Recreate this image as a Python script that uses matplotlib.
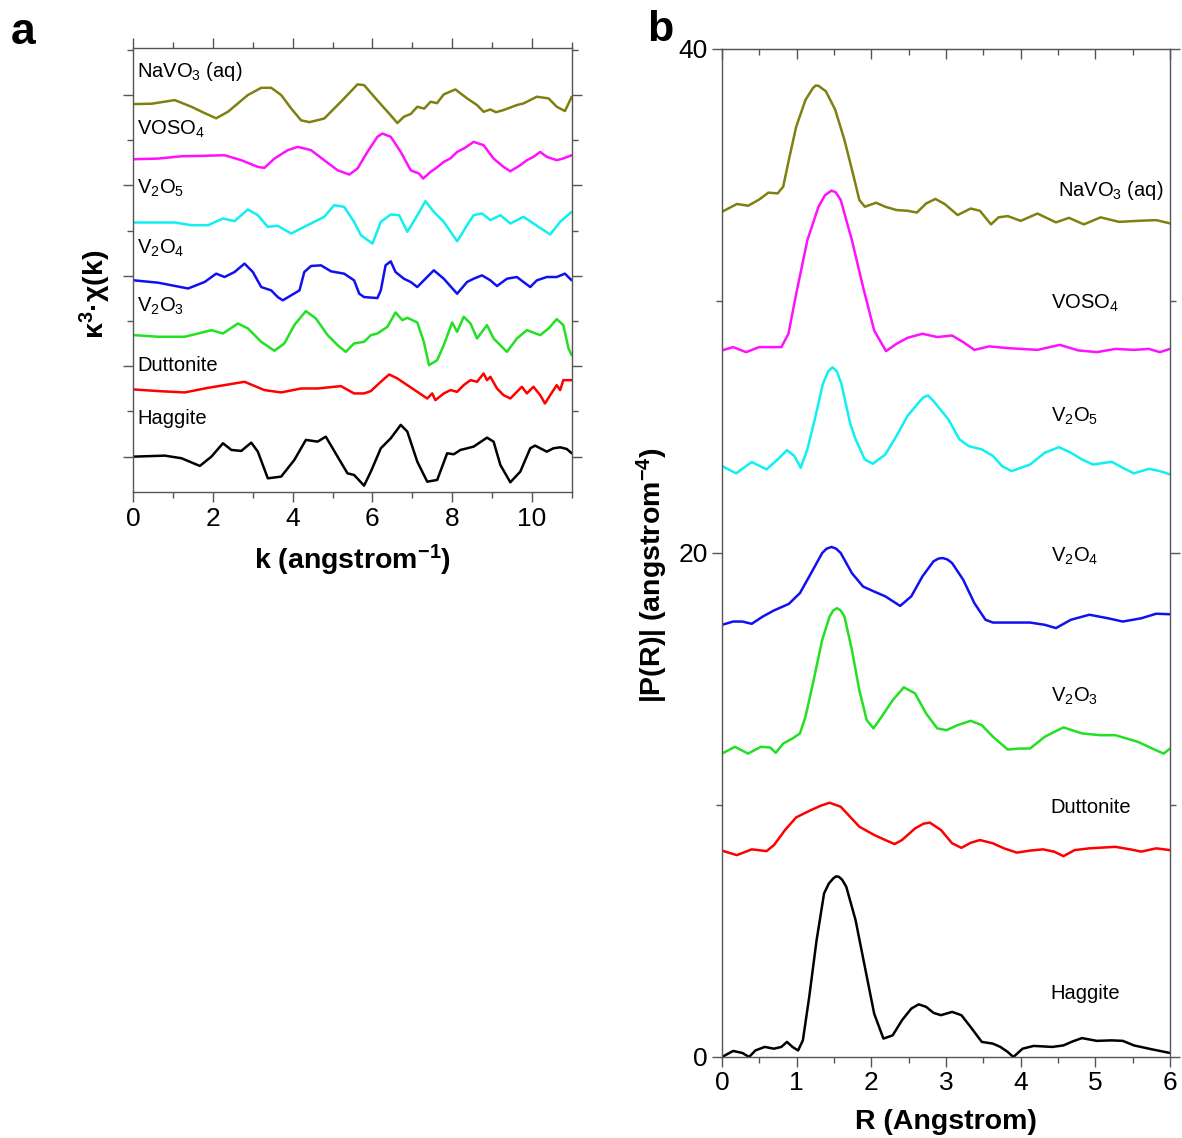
import matplotlib

matplotlib.use("Agg")
import matplotlib.pyplot as plt
from matplotlib.ticker import MultipleLocator

plt.rcParams["font.family"] = ["Liberation Sans", "DejaVu Sans"]
plt.rcParams["mathtext.default"] = "regular"

# ---------------- panel a: k^3 chi(k), stacked with offsets ----------------
names = ["Haggite", "Duttonite", "V$_2$O$_3$", "V$_2$O$_4$", "V$_2$O$_5$", "VOSO$_4$", "NaVO$_3$ (aq)"]
colors = ["#000000", "#ff0000", "#22e022", "#1010f0", "#10f0f0", "#ff10ff", "#808010"]
k_offsets = [0.0, 0.743, 1.344, 1.95, 2.59, 3.29, 3.90]
k_label_y = [0.357, 0.947, 1.60, 2.25, 2.905, 3.565, 4.20]

hag_k = [0.02, 0.79, 1.21, 1.67, 1.96, 2.25, 2.46, 2.71, 2.96, 3.125, 3.375, 3.71, 4.04, 4.33, 4.625,
         4.83, 5.125, 5.375, 5.54, 5.79, 5.96, 6.21, 6.46, 6.71, 6.875, 7.125, 7.375, 7.625, 7.875,
         8.04, 8.21, 8.375, 8.54, 8.875, 9.04, 9.21, 9.46, 9.71, 9.96, 10.08, 10.375, 10.54, 10.71,
         10.875, 11.0]
hag_chi = [0.0, 0.011, -0.018, -0.103, 0.0, 0.148, 0.074, 0.063, 0.155, 0.055, -0.240, -0.221, -0.037,
           0.185, 0.166, 0.221, 0.0, -0.185, -0.203, -0.321, -0.166, 0.092, 0.203, 0.351, 0.277,
           -0.055, -0.277, -0.258, 0.037, 0.026, 0.074, 0.092, 0.111, 0.210, 0.166, -0.092, -0.284,
           -0.166, 0.092, 0.122, 0.055, 0.092, 0.103, 0.085, 0.037]

dut_k = [0.02, 0.625, 1.29, 1.875, 2.29, 2.79, 3.29, 3.71, 4.21, 4.625, 5.21, 5.54, 5.79, 5.96, 6.21,
         6.42, 6.625, 6.875, 7.125, 7.375, 7.5, 7.58, 7.79, 7.96, 8.125, 8.29, 8.46, 8.625, 8.79,
         8.875, 8.96, 9.125, 9.29, 9.46, 9.625, 9.75, 9.875, 10.04, 10.21, 10.33, 10.46, 10.625,
         10.71, 10.79, 11.0]
dut_chi = [0.0, -0.018, -0.033, 0.018, 0.048, 0.085, -0.007, -0.033, 0.011, 0.011, 0.037, -0.044,
           -0.044, -0.018, 0.085, 0.166, 0.122, 0.048, -0.026, -0.100, -0.044, -0.118, -0.044,
           -0.007, -0.026, 0.048, 0.103, 0.085, 0.177, 0.103, 0.140, 0.011, -0.063, -0.100,
           -0.026, 0.030, -0.044, 0.030, -0.063, -0.155, -0.063, 0.048, -0.007, 0.103, 0.103]

v2o3_k = [0.02, 0.625, 1.29, 1.625, 1.96, 2.25, 2.625, 2.875, 3.21, 3.54, 3.79, 4.04, 4.33, 4.58,
          4.875, 5.125, 5.33, 5.54, 5.79, 5.96, 6.125, 6.375, 6.58, 6.75, 6.875, 7.125, 7.29, 7.42,
          7.625, 7.79, 8.0, 8.125, 8.29, 8.46, 8.625, 8.875, 9.04, 9.375, 9.625, 9.875, 10.21,
          10.42, 10.625, 10.79, 10.92, 11.0]
v2o3_chi = [0.0, -0.018, -0.018, 0.018, 0.055, 0.018, 0.129, 0.074, -0.074, -0.173, -0.092, 0.111,
            0.266, 0.185, 0.0, -0.111, -0.185, -0.092, -0.074, 0.0, 0.018, 0.092, 0.251, 0.166,
            0.192, 0.140, -0.074, -0.332, -0.277, -0.111, 0.140, 0.037, 0.203, 0.129, -0.037,
            0.111, -0.037, -0.185, -0.037, 0.055, 0.0, 0.074, 0.177, 0.111, -0.148, -0.221]

v2o4_k = [0.02, 0.625, 1.375, 1.79, 2.08, 2.29, 2.54, 2.79, 3.0, 3.21, 3.46, 3.625, 3.75, 3.96, 4.17,
          4.29, 4.46, 4.71, 4.96, 5.29, 5.54, 5.67, 5.79, 6.125, 6.21, 6.33, 6.46, 6.58, 6.79,
          6.96, 7.125, 7.29, 7.54, 7.79, 8.125, 8.375, 8.54, 8.75, 8.96, 9.125, 9.375, 9.625,
          9.79, 9.96, 10.125, 10.375, 10.625, 10.83, 11.0]
v2o4_chi = [0.0, -0.026, -0.090, -0.018, 0.074, 0.037, 0.092, 0.185, 0.092, -0.074, -0.111, -0.185,
            -0.221, -0.166, -0.111, 0.092, 0.159, 0.166, 0.100, 0.074, 0.0, -0.148, -0.185, -0.196,
            -0.111, 0.166, 0.210, 0.092, 0.018, -0.018, -0.074, 0.0, 0.111, 0.018, -0.148, -0.018,
            0.018, 0.055, 0.0, -0.063, 0.018, 0.037, -0.018, -0.074, 0.0, 0.037, 0.037, 0.074, 0.0]

v2o5_k = [0.02, 1.04, 1.46, 1.875, 2.25, 2.54, 2.875, 3.125, 3.375, 3.625, 3.96, 4.29, 4.79, 5.04,
          5.29, 5.54, 5.71, 6.0, 6.21, 6.46, 6.67, 6.875, 7.08, 7.33, 7.54, 7.79, 8.125, 8.375,
          8.54, 8.75, 8.96, 9.21, 9.46, 9.79, 10.04, 10.46, 10.71, 11.0]
v2o5_chi = [0.0, 0.0, -0.030, -0.030, 0.044, 0.015, 0.144, 0.081, -0.048, -0.037, -0.122, -0.048,
            0.063, 0.192, 0.173, 0.007, -0.140, -0.233, 0.007, 0.089, 0.081, -0.103, 0.044, 0.236,
            0.118, 0.007, -0.207, -0.030, 0.081, 0.100, 0.026, 0.081, -0.011, 0.063, -0.011,
            -0.133, 0.007, 0.118]

voso_k = [0.02, 0.625, 1.21, 1.71, 2.29, 2.71, 3.125, 3.29, 3.54, 3.875, 4.125, 4.46, 4.79, 5.125,
          5.42, 5.625, 5.875, 6.125, 6.25, 6.46, 6.71, 6.96, 7.17, 7.27, 7.46, 7.62, 7.79, 7.96,
          8.125, 8.3, 8.54, 8.79, 9.04, 9.29, 9.46, 9.71, 9.875, 10.04, 10.21, 10.375, 10.625,
          10.8, 11.0]
voso_chi = [0.0, 0.007, 0.033, 0.037, 0.044, -0.011, -0.085, -0.096, 0.007, 0.100, 0.137, 0.100,
            -0.011, -0.122, -0.170, -0.103, 0.081, 0.248, 0.284, 0.248, 0.081, -0.122, -0.159,
            -0.214, -0.140, -0.090, -0.030, 0.010, 0.081, 0.120, 0.192, 0.155, 0.007, -0.085,
            -0.133, -0.066, -0.011, 0.026, 0.081, 0.026, -0.011, 0.010, 0.044]

nav_k = [0.02, 0.46, 1.04, 1.46, 1.79, 2.08, 2.375, 2.875, 3.21, 3.46, 3.71, 3.96, 4.21, 4.42, 4.79,
         5.21, 5.625, 5.79, 6.125, 6.46, 6.625, 6.79, 6.96, 7.125, 7.3, 7.46, 7.62, 7.79, 8.08,
         8.375, 8.625, 8.79, 8.96, 9.1, 9.29, 9.45, 9.625, 9.79, 10.125, 10.42, 10.625, 10.83, 11.0]
nav_chi = [0.0, 0.004, 0.044, -0.030, -0.100, -0.157, -0.085, 0.100, 0.180, 0.180, 0.100, -0.048,
           -0.180, -0.200, -0.160, 0.026, 0.218, 0.210, 0.040, -0.125, -0.210, -0.140, -0.110,
           -0.030, -0.050, 0.026, 0.010, 0.107, 0.162, 0.063, -0.011, -0.085, -0.060, -0.090,
           -0.066, -0.040, -0.011, 0.007, 0.081, 0.063, -0.030, -0.077, 0.080]

k_data = [(hag_k, hag_chi), (dut_k, dut_chi), (v2o3_k, v2o3_chi), (v2o4_k, v2o4_chi),
          (v2o5_k, v2o5_chi), (voso_k, voso_chi), (nav_k, nav_chi)]

# ---------------- panel b: |P(R)|, already offset ----------------
hag_r = [0.0, 0.149, 0.273, 0.363, 0.447, 0.572, 0.696, 0.795, 0.87, 0.944, 1.019, 1.083, 1.168,
         1.267, 1.367, 1.43, 1.491, 1.53, 1.566, 1.61, 1.665, 1.789, 1.913, 2.038, 2.162, 2.286,
         2.411, 2.535, 2.634, 2.734, 2.833, 2.932, 3.082, 3.206, 3.33, 3.479, 3.628, 3.728, 3.827,
         3.902, 4.026, 4.175, 4.423, 4.573, 4.697, 4.821, 5.02, 5.219, 5.368, 5.517, 5.765, 6.0]
hag_p = [0.0, 0.24, 0.16, 0.0, 0.26, 0.40, 0.33, 0.40, 0.60, 0.40, 0.26, 0.66, 2.38, 4.64, 6.49,
         6.88, 7.09, 7.17, 7.15, 7.03, 6.75, 5.43, 3.58, 1.72, 0.73, 0.86, 1.46, 1.92, 2.09, 1.99,
         1.75, 1.66, 1.79, 1.66, 1.19, 0.60, 0.53, 0.40, 0.20, 0.0, 0.33, 0.44, 0.40, 0.46, 0.62,
         0.75, 0.64, 0.66, 0.64, 0.46, 0.30, 0.16]

dut_r = [0.0, 0.199, 0.398, 0.596, 0.696, 0.845, 0.994, 1.193, 1.33, 1.441, 1.59, 1.839, 2.038,
         2.187, 2.311, 2.411, 2.585, 2.70, 2.783, 2.932, 3.082, 3.206, 3.33, 3.454, 3.628, 3.777,
         3.95, 4.125, 4.299, 4.448, 4.573, 4.722, 4.92, 5.268, 5.467, 5.616, 5.815, 6.0]
dut_p = [8.19, 8.01, 8.24, 8.17, 8.41, 9.01, 9.51, 9.80, 9.98, 10.09, 9.93, 9.14, 8.81, 8.61, 8.45,
         8.61, 9.07, 9.26, 9.30, 9.01, 8.48, 8.30, 8.50, 8.61, 8.48, 8.28, 8.11, 8.19, 8.24, 8.15,
         7.97, 8.21, 8.28, 8.34, 8.24, 8.15, 8.28, 8.21]

v2o3_r = [0.0, 0.174, 0.348, 0.522, 0.646, 0.72, 0.82, 0.944, 1.044, 1.118, 1.218, 1.342, 1.441,
          1.49, 1.54, 1.59, 1.64, 1.74, 1.839, 1.938, 2.028, 2.137, 2.286, 2.435, 2.585, 2.734,
          2.883, 3.007, 3.156, 3.33, 3.479, 3.628, 3.827, 3.976, 4.125, 4.324, 4.573, 4.821, 5.07,
          5.268, 5.567, 5.815, 5.915, 6.0]
v2o3_p = [12.04, 12.31, 12.04, 12.31, 12.28, 12.07, 12.44, 12.64, 12.84, 13.50, 14.83, 16.55, 17.48,
          17.72, 17.81, 17.72, 17.48, 16.15, 14.56, 13.37, 13.04, 13.50, 14.16, 14.67, 14.43, 13.63,
          13.04, 12.97, 13.17, 13.34, 13.17, 12.71, 12.20, 12.24, 12.24, 12.71, 13.08, 12.84, 12.77,
          12.77, 12.51, 12.17, 12.04, 12.24]

v2o4_r = [0.0, 0.149, 0.273, 0.398, 0.547, 0.696, 0.895, 1.044, 1.193, 1.342, 1.40, 1.466, 1.53,
          1.59, 1.74, 1.889, 2.038, 2.187, 2.386, 2.535, 2.684, 2.833, 2.90, 2.957, 3.02, 3.082,
          3.23, 3.38, 3.529, 3.628, 3.827, 4.125, 4.324, 4.473, 4.672, 4.92, 5.169, 5.368, 5.616,
          5.815, 6.0]
v2o4_p = [17.15, 17.28, 17.28, 17.19, 17.48, 17.72, 17.98, 18.41, 19.20, 20.0, 20.17, 20.24, 20.17,
          20.0, 19.20, 18.67, 18.47, 18.28, 17.90, 18.28, 19.07, 19.67, 19.78, 19.80, 19.74, 19.60,
          18.94, 18.01, 17.35, 17.24, 17.24, 17.24, 17.15, 17.02, 17.35, 17.55, 17.41, 17.28, 17.41,
          17.59, 17.57]

v2o5_r = [0.0, 0.189, 0.398, 0.596, 0.745, 0.87, 0.969, 1.054, 1.143, 1.243, 1.35, 1.42, 1.48, 1.54,
          1.60, 1.66, 1.72, 1.79, 1.913, 2.02, 2.187, 2.336, 2.485, 2.634, 2.70, 2.76, 2.833, 3.03,
          3.18, 3.305, 3.48, 3.63, 3.75, 3.877, 4.125, 4.324, 4.513, 4.672, 4.821, 4.97, 5.219,
          5.368, 5.517, 5.716, 5.865, 6.0]
v2o5_p = [23.45, 23.16, 23.61, 23.32, 23.71, 24.08, 23.85, 23.38, 24.11, 25.31, 26.70, 27.20, 27.37,
          27.20, 26.70, 25.90, 25.10, 24.51, 23.71, 23.54, 23.91, 24.64, 25.44, 25.97, 26.18, 26.25,
          26.03, 25.31, 24.51, 24.24, 24.11, 23.85, 23.45, 23.25, 23.51, 23.98, 24.20, 23.98, 23.71,
          23.51, 23.62, 23.38, 23.16, 23.34, 23.25, 23.12]

voso_r = [0.0, 0.149, 0.323, 0.497, 0.646, 0.795, 0.89, 0.994, 1.143, 1.292, 1.38, 1.466, 1.52,
          1.59, 1.74, 1.889, 2.038, 2.197, 2.336, 2.485, 2.684, 2.883, 3.082, 3.23, 3.38, 3.579,
          3.827, 4.225, 4.523, 4.771, 5.02, 5.268, 5.517, 5.716, 5.865, 6.0]
voso_p = [28.04, 28.17, 27.97, 28.17, 28.17, 28.17, 28.70, 30.29, 32.41, 33.74, 34.20, 34.38, 34.32,
          34.01, 32.41, 30.56, 28.83, 28.01, 28.30, 28.54, 28.70, 28.57, 28.63, 28.37, 28.06, 28.20,
          28.13, 28.06, 28.26, 28.04, 27.97, 28.10, 28.06, 28.10, 27.97, 28.10]

nav_r = [0.0, 0.2, 0.35, 0.5, 0.62, 0.745, 0.82, 0.895, 0.994, 1.118, 1.218, 1.255, 1.292, 1.392,
         1.516, 1.64, 1.764, 1.839, 1.913, 2.063, 2.187, 2.336, 2.485, 2.61, 2.734, 2.858, 2.982,
         3.156, 3.33, 3.454, 3.603, 3.703, 3.827, 4.0, 4.225, 4.473, 4.647, 4.846, 5.07, 5.318,
         5.567, 5.815, 6.0]
nav_p = [33.54, 33.85, 33.78, 34.03, 34.30, 34.27, 34.54, 35.60, 36.92, 37.98, 38.45, 38.55, 38.54,
         38.32, 37.59, 36.39, 34.93, 34.01, 33.74, 33.90, 33.74, 33.61, 33.58, 33.51, 33.87, 34.05,
         33.85, 33.41, 33.67, 33.58, 33.04, 33.32, 33.37, 33.18, 33.47, 33.12, 33.30, 33.04, 33.32,
         33.14, 33.18, 33.21, 33.08]

r_data = [(hag_r, hag_p), (dut_r, dut_p), (v2o3_r, v2o3_p), (v2o4_r, v2o4_p),
          (v2o5_r, v2o5_p), (voso_r, voso_p), (nav_r, nav_p)]
r_label_x = [4.40, 4.40, 4.40, 4.40, 4.40, 4.41, 4.50]
r_label_y = [2.29, 9.67, 14.10, 19.64, 25.20, 29.71, 34.17]

W, H = 1182, 1138
fig = plt.figure(figsize=(W / 100, H / 100), dpi=100)
ax_a = fig.add_axes([133.3 / W, 1 - 491.7 / H, 438.4 / W, 443.4 / H])
ax_b = fig.add_axes([722 / W, 1 - 1057 / H, 448 / W, 1008 / H])

spine_col = "#555555"
line_kw = dict(lw=1.8, solid_joinstyle="round", solid_capstyle="round")

for (kx, chi), off, col, name, ly in zip(k_data, k_offsets, colors, names, k_label_y):
    ax_a.plot(kx, [c + off for c in chi], color=col, **line_kw)
    ax_a.text(0.1, ly, name, fontsize=14.5, ha="left", va="baseline")

ax_a.set_xlim(0, 11)
ax_a.set_ylim(-0.388, 4.517)
ax_a.xaxis.set_major_locator(MultipleLocator(2))
ax_a.xaxis.set_minor_locator(MultipleLocator(1))
ax_a.yaxis.set_major_locator(MultipleLocator(1))
ax_a.yaxis.set_minor_locator(MultipleLocator(0.5))
ax_a.tick_params(which="both", direction="out", top=True, right=True, labelleft=False,
                 color=spine_col, width=1)
ax_a.tick_params(which="major", length=7, labelsize=19, pad=4)
ax_a.tick_params(which="minor", length=4)

for (rx, p), col, name, lx, ly in zip(r_data, colors, names, r_label_x, r_label_y):
    ax_b.plot(rx, p, color=col, **line_kw)
    ax_b.text(lx, ly, name, fontsize=14.5, ha="left", va="baseline")

ax_b.set_xlim(0, 6)
ax_b.set_ylim(0, 40)
ax_b.xaxis.set_major_locator(MultipleLocator(1))
ax_b.xaxis.set_minor_locator(MultipleLocator(0.5))
ax_b.yaxis.set_major_locator(MultipleLocator(20))
ax_b.yaxis.set_minor_locator(MultipleLocator(10))
ax_b.tick_params(which="both", direction="out", top=False, right=True, color=spine_col, width=1)
ax_b.tick_params(which="major", length=7, labelsize=19, pad=3)
ax_b.tick_params(which="minor", length=4)

# top axis of panel b has inward ticks
top_b = ax_b.secondary_xaxis("top")
top_b.xaxis.set_major_locator(MultipleLocator(1))
top_b.xaxis.set_minor_locator(MultipleLocator(0.5))
top_b.tick_params(which="both", direction="in", labeltop=False, color=spine_col, width=1)
top_b.tick_params(which="major", length=7)
top_b.tick_params(which="minor", length=4)
top_b.spines["top"].set_color(spine_col)

for ax in (ax_a, ax_b):
    for sp in ax.spines.values():
        sp.set_color(spine_col)
        sp.set_linewidth(1)

fig.text(95 / W, 1 - 294 / H, "κ$^3$·χ(k)", rotation=90, fontsize=20.5, fontweight="bold",
         ha="center", va="center")
fig.text(352 / W, 1 - 560 / H, "k (angstrom$^{-1}$)", fontsize=20.5, fontweight="bold",
         ha="center", va="center")
fig.text(652 / W, 1 - 575 / H, "|P(R)| (angstrom$^{-4}$)", rotation=90, fontsize=20.5,
         fontweight="bold", ha="center", va="center")
fig.text(946 / W, 1 - 1122 / H, "R (Angstrom)", fontsize=20.5, fontweight="bold",
         ha="center", va="center")

fig.text(23 / W, 1 - 33 / H, "a", fontsize=32, fontweight="bold", ha="center", va="center")
fig.text(660 / W, 1 - 30 / H, "b", fontsize=31, fontweight="bold", ha="center", va="center")

fig.savefig("out.png", dpi=100)
plt.close(fig)
